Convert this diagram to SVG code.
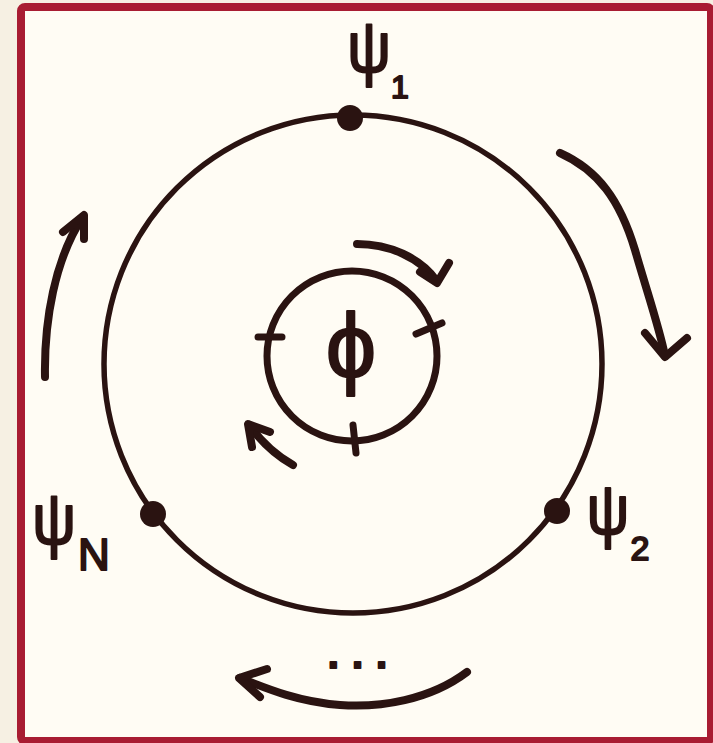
<svg xmlns="http://www.w3.org/2000/svg" width="713" height="743" viewBox="0 0 713 743">
<style>
.ink{stroke:#2a1311;fill:none;stroke-linecap:round;stroke-linejoin:round}
.arr{stroke-width:8}
.lbl{fill:#2a1311;stroke:#2a1311;stroke-width:2;stroke-linejoin:round;font-family:"Liberation Sans",sans-serif}
</style>
<rect x="0" y="0" width="713" height="743" fill="#f6f0e3"/>
<rect x="21" y="7" width="690" height="734" rx="4" fill="#fffcf4" stroke="#a81c32" stroke-width="8"/>
<g id="connectors">
<path class="ink arr" d="M560,153 C598,170 620,200 635,250 C648,295 660,330 665,356"/>
<path class="ink arr" d="M645,333 L665,357 L687,338"/>
<path class="ink arr" d="M45,377 C44,320 55,260 82,218"/>
<path class="ink arr" d="M63,232 L84,215 L84,239" fill="#2a1311"/>
<path class="ink arr" d="M467,672 C430,700 380,708 340,705 C300,702 270,690 240,678"/>
<path class="ink arr" d="M267,669 L239,678 L260,697"/>
<path class="ink arr" d="M357,244 C390,244 420,258 436,280"/>
<path class="ink arr" d="M420,272 L437,283 L449,263"/>
<path class="ink arr" d="M293,465 C275,455 260,440 249,425"/>
<path class="ink arr" d="M270,432 L248,424 L252,447"/>
</g>
<g id="outer-ring">
<circle class="ink" cx="353" cy="364" r="249" stroke-width="5.5"/>
</g>
<g id="inner-ring">
<circle class="ink" cx="352" cy="356" r="85" stroke-width="7"/>
<path class="ink" stroke-width="7" d="M258,337 L282,337 M416,334 L442,323 M353,425 L356,453"/>
<text class="lbl" x="351" y="377" font-size="90" text-anchor="middle">ϕ</text>
</g>
<g id="psi1">
<circle cx="350" cy="118" r="13" fill="#2a1311"/>
<text class="lbl" x="369" y="72" font-size="72" text-anchor="middle" transform="translate(369 0) scale(0.85 1) translate(-369 0)">ψ</text>
<text class="lbl" x="400" y="98" font-size="32" text-anchor="middle">1</text>
</g>
<g id="psi2">
<circle cx="557" cy="511" r="13" fill="#2a1311"/>
<text class="lbl" x="608" y="534" font-size="70" text-anchor="middle" transform="translate(608 0) scale(0.85 1) translate(-608 0)">ψ</text>
<text class="lbl" x="640" y="560" font-size="34" text-anchor="middle">2</text>
</g>
<g id="psiN">
<circle cx="153" cy="514" r="13" fill="#2a1311"/>
<text class="lbl" x="54" y="544" font-size="72" text-anchor="middle" transform="translate(54 0) scale(0.85 1) translate(-54 0)">ψ</text>
<text class="lbl" x="94" y="570" font-size="44" text-anchor="middle">N</text>
</g>
<g id="ellipsis">
<text class="lbl" x="364" y="668" font-size="40" font-weight="bold" text-anchor="middle" letter-spacing="13">...</text>
</g>
</svg>
